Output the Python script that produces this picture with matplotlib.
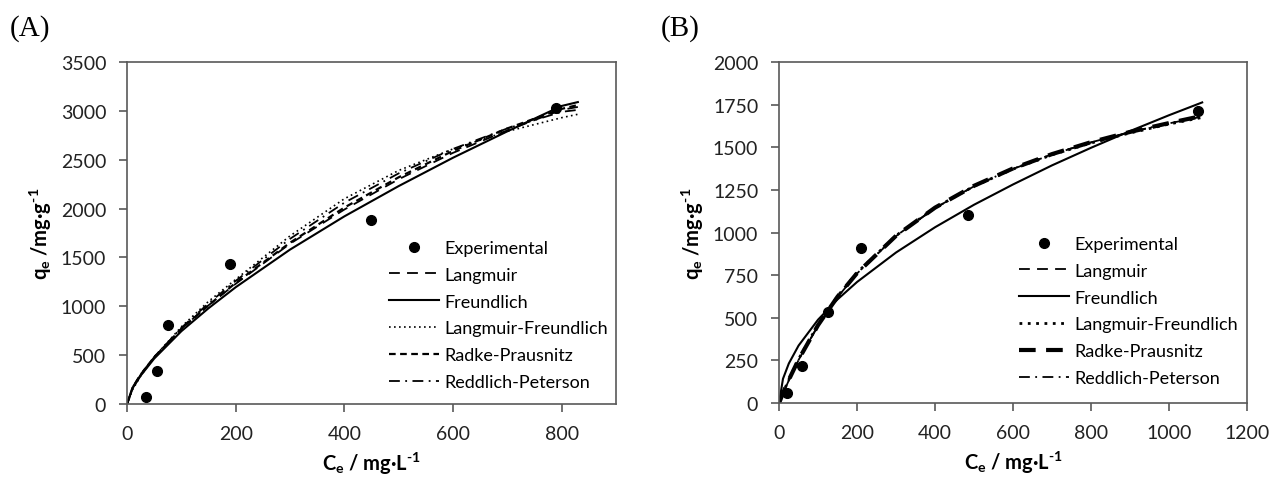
import matplotlib
matplotlib.use("Agg")
import matplotlib.pyplot as plt

plt.rcParams["font.family"] = ["Lato", "DejaVu Sans"]
plt.rcParams["mathtext.fontset"] = "custom"
plt.rcParams["mathtext.rm"] = "Lato:bold"
plt.rcParams["mathtext.it"] = "Lato:bold"
plt.rcParams["mathtext.bf"] = "Lato:bold"

# ---- panel A data ----
a_exp_c = [35, 55, 75, 190, 450, 790]
a_exp_q = [70, 340, 810, 1430, 1880, 3030]
a_fit_c = [0, 10, 25, 50, 100, 150, 200, 300, 400, 500, 600, 700, 800, 830]
a_langmuir = [0, 170, 305, 480, 770, 1010, 1230, 1640, 1990, 2300, 2570, 2800, 3010, 3040]
a_freundlich = [0, 160, 290, 465, 745, 980, 1195, 1580, 1920, 2230, 2520, 2790, 3050, 3090]
a_lang_freund = [0, 145, 285, 480, 790, 1050, 1275, 1720, 2100, 2390, 2610, 2790, 2930, 2965]
a_radke = [0, 165, 300, 480, 770, 1010, 1240, 1650, 2010, 2320, 2590, 2820, 3020, 3060]
a_reddlich = [0, 160, 300, 480, 780, 1030, 1260, 1690, 2060, 2360, 2610, 2820, 2990, 3010]

# ---- panel B data ----
b_exp_c = [20, 60, 125, 210, 485, 1075]
b_exp_q = [60, 215, 535, 910, 1100, 1710]
b_fit_c = [0, 10, 25, 50, 100, 150, 200, 300, 400, 500, 600, 700, 800, 900, 1000, 1085]
b_langmuir = [0, 55, 133, 252, 454, 621, 760, 979, 1143, 1271, 1373, 1458, 1528, 1588, 1640, 1680]
b_freundlich = [0, 142, 232, 337, 489, 608, 710, 883, 1031, 1163, 1282, 1394, 1497, 1595, 1688, 1763]
b_lang_freund = [0, 60, 138, 258, 460, 627, 765, 982, 1145, 1272, 1372, 1456, 1525, 1584, 1636, 1675]
b_radke = [0, 58, 136, 255, 457, 624, 762, 981, 1146, 1274, 1376, 1460, 1530, 1590, 1642, 1684]
b_reddlich = [0, 56, 134, 253, 455, 622, 761, 980, 1144, 1272, 1374, 1459, 1529, 1589, 1641, 1682]

labels = ["Experimental", "Langmuir", "Freundlich", "Langmuir-Freundlich",
          "Radke-Prausnitz", "Reddlich-Peterson"]

SPINE = "#595959"

fig = plt.figure(figsize=(12.73, 4.81), dpi=100)
ax_a = fig.add_axes([0.0998, 0.158, 0.384, 0.711])
ax_b = fig.add_axes([0.612, 0.160, 0.3676, 0.709])


def style_axes(ax, xmax, ymax, xticks, yticks):
    ax.set_xlim(0, xmax)
    ax.set_ylim(0, ymax)
    ax.set_xticks(xticks)
    ax.set_yticks(yticks)
    for s in ax.spines.values():
        s.set_color(SPINE)
        s.set_linewidth(1.2)
    ax.tick_params(direction="out", length=6, width=1.2, color=SPINE,
                   labelsize=14, labelcolor="#222222", pad=9)
    ax.set_xlabel(r"C$_{\rm e}$ / mg·L$^{\text{-1}}$", fontsize=14.5, fontweight="bold", labelpad=6)
    ax.set_ylabel(r"q$_{\rm e}$ /mg·g$^{\text{-1}}$", fontsize=14.5, fontweight="bold", labelpad=5)


def add_legend(ax, anchor):
    ax.legend(loc="upper left", bbox_to_anchor=anchor, frameon=False,
              fontsize=13, handlelength=2.8, handletextpad=0.3,
              labelspacing=0.6, borderpad=0, borderaxespad=0)


# panel A
ax_a.plot(a_exp_c, a_exp_q, "o", color="black", markersize=7, label=labels[0], zorder=5)
ax_a.plot(a_fit_c, a_langmuir, color="black", lw=1.3, dashes=(6, 4), label=labels[1])
ax_a.plot(a_fit_c, a_freundlich, color="black", lw=1.5, label=labels[2])
ax_a.plot(a_fit_c, a_lang_freund, color="black", lw=1.2, dashes=(1, 2), label=labels[3])
ax_a.plot(a_fit_c, a_radke, color="black", lw=1.6, dashes=(3, 2), label=labels[4])
ax_a.plot(a_fit_c, a_reddlich, color="black", lw=1.3, dashes=(6, 3, 1, 3), label=labels[5])
style_axes(ax_a, 900, 3500, [0, 200, 400, 600, 800], range(0, 3501, 500))
add_legend(ax_a, (0.535, 0.48))

# panel B
ax_b.plot(b_exp_c, b_exp_q, "o", color="black", markersize=7, label=labels[0], zorder=5)
ax_b.plot(b_fit_c, b_langmuir, color="black", lw=1.3, dashes=(6, 4), label=labels[1])
ax_b.plot(b_fit_c, b_freundlich, color="black", lw=1.5, label=labels[2])
ax_b.plot(b_fit_c, b_lang_freund, color="black", lw=2.0, dashes=(1, 2), label=labels[3])
ax_b.plot(b_fit_c, b_radke, color="black", lw=3.0, dashes=(4, 2.5), label=labels[4])
ax_b.plot(b_fit_c, b_reddlich, color="black", lw=1.3, dashes=(6, 3, 1, 3), label=labels[5])
style_axes(ax_b, 1200, 2000, range(0, 1201, 200), range(0, 2001, 250))
add_legend(ax_b, (0.512, 0.49))

fig.text(0.008, 0.925, "(A)", fontsize=21, family=["Liberation Serif"])
fig.text(0.519, 0.925, "(B)", fontsize=21, family=["Liberation Serif"])

fig.savefig("out.png", dpi=100)
